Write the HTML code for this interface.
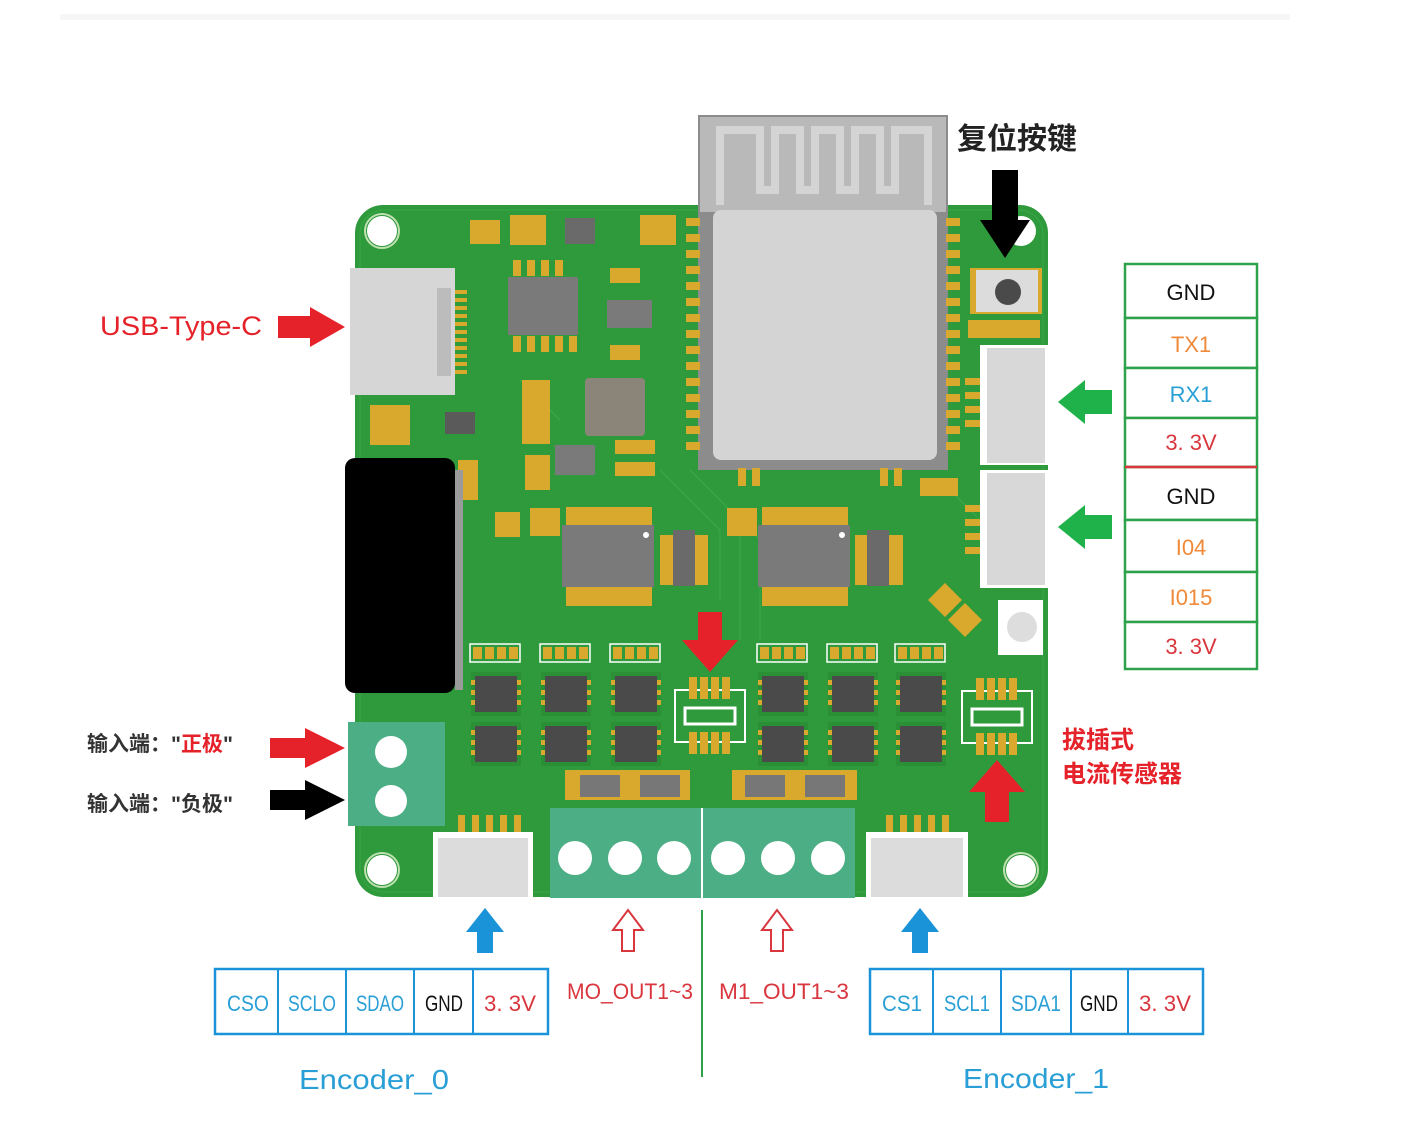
<!DOCTYPE html>
<html><head><meta charset="utf-8"><style>
html,body{margin:0;padding:0;background:#fff;}
svg{display:block;}
text{font-family:"Liberation Sans","Noto Sans CJK SC",sans-serif;}
</style></head><body>
<svg width="1407" height="1145" viewBox="0 0 1407 1145" xmlns="http://www.w3.org/2000/svg">
<defs>
<g id="qfn">
 <rect x="0" y="0" width="50" height="44" fill="#2a8f35"/>
 <rect x="4" y="4" width="42" height="36" fill="#4a4a4a"/>
 <rect x="0" y="8" width="4" height="5" fill="#d9a92e"/><rect x="0" y="18" width="4" height="5" fill="#d9a92e"/><rect x="0" y="28" width="4" height="5" fill="#d9a92e"/>
 <rect x="46" y="8" width="4" height="5" fill="#d9a92e"/><rect x="46" y="18" width="4" height="5" fill="#d9a92e"/><rect x="46" y="28" width="4" height="5" fill="#d9a92e"/>
</g>
<g id="pads">
 <rect x="0" y="0" width="50" height="18" fill="none" stroke="#fff" stroke-width="1.5"/>
 <rect x="3" y="3" width="9" height="12" fill="#d9a92e"/><rect x="15" y="3" width="9" height="12" fill="#d9a92e"/><rect x="27" y="3" width="9" height="12" fill="#d9a92e"/><rect x="39" y="3" width="9" height="12" fill="#d9a92e"/>
</g>
<g id="sensor">
 <rect x="0" y="18" width="70" height="52" fill="none" stroke="#fff" stroke-width="2"/>
 <rect x="10" y="36" width="50" height="16" fill="none" stroke="#fff" stroke-width="3"/>
 <rect x="14" y="5" width="8" height="22" fill="#d9a92e"/><rect x="25" y="5" width="8" height="22" fill="#d9a92e"/><rect x="36" y="5" width="8" height="22" fill="#d9a92e"/><rect x="47" y="5" width="8" height="22" fill="#d9a92e"/>
 <rect x="14" y="60" width="8" height="22" fill="#d9a92e"/><rect x="25" y="60" width="8" height="22" fill="#d9a92e"/><rect x="36" y="60" width="8" height="22" fill="#d9a92e"/><rect x="47" y="60" width="8" height="22" fill="#d9a92e"/>
</g>
<g id="soic">
 <rect x="0" y="0" width="92" height="62" fill="#7a7a7a"/>
 <circle cx="84" cy="10" r="3" fill="#fff"/>
</g>
</defs>

<!-- faint top line -->
<rect x="60" y="14" width="1230" height="6" fill="#f6f6f6"/>

<!-- board -->
<rect x="355" y="205" width="693" height="692" rx="28" fill="#2e9a3b"/>
<rect x="360" y="210" width="683" height="682" rx="24" fill="none" stroke="#3aa847" stroke-width="1"/>
<!-- mounting holes -->
<circle cx="382" cy="231" r="15" fill="#fff"/><circle cx="382" cy="231" r="17" fill="none" stroke="#bfe0b0" stroke-width="2"/>
<circle cx="1021" cy="231" r="15" fill="#fff"/>
<circle cx="382" cy="870" r="15" fill="#fff"/><circle cx="382" cy="870" r="17" fill="none" stroke="#bfe0b0" stroke-width="2"/>
<circle cx="1021" cy="870" r="15" fill="#fff"/><circle cx="1021" cy="870" r="17" fill="none" stroke="#bfe0b0" stroke-width="2"/>

<!-- traces -->
<g stroke="#36a544" stroke-width="1.5" fill="none">
<path d="M690 470 L760 540 L760 640"/><path d="M700 480 L740 520 L740 640"/><path d="M940 480 L980 520"/>
<path d="M520 380 L560 420"/><path d="M660 470 L720 530 L720 600"/>
</g>

<!-- ESP module -->
<rect x="698" y="115" width="250" height="355" fill="#8c8c8c"/>
<rect x="700" y="117" width="246" height="95" fill="#b9b9b9"/>
<path d="M720 205 L720 130 L760 130 L760 190 L775 190 L775 130 L800 130 L800 190 L815 190 L815 130 L840 130 L840 190 L855 190 L855 130 L880 130 L880 190 L895 190 L895 130 L928 130 L928 205" fill="none" stroke="#d4d4d4" stroke-width="8"/>
<rect x="713" y="210" width="224" height="250" rx="8" fill="#d4d4d4"/>
<!-- module pads -->
<g fill="#d9a92e">
<rect x="686" y="218" width="14" height="8"/><rect x="686" y="234" width="14" height="8"/><rect x="686" y="250" width="14" height="8"/><rect x="686" y="266" width="14" height="8"/><rect x="686" y="282" width="14" height="8"/><rect x="686" y="298" width="14" height="8"/><rect x="686" y="314" width="14" height="8"/><rect x="686" y="330" width="14" height="8"/><rect x="686" y="346" width="14" height="8"/><rect x="686" y="362" width="14" height="8"/><rect x="686" y="378" width="14" height="8"/><rect x="686" y="394" width="14" height="8"/><rect x="686" y="410" width="14" height="8"/><rect x="686" y="426" width="14" height="8"/><rect x="686" y="442" width="14" height="8"/>
<rect x="946" y="218" width="14" height="8"/><rect x="946" y="234" width="14" height="8"/><rect x="946" y="250" width="14" height="8"/><rect x="946" y="266" width="14" height="8"/><rect x="946" y="282" width="14" height="8"/><rect x="946" y="298" width="14" height="8"/><rect x="946" y="314" width="14" height="8"/><rect x="946" y="330" width="14" height="8"/><rect x="946" y="346" width="14" height="8"/><rect x="946" y="362" width="14" height="8"/><rect x="946" y="378" width="14" height="8"/><rect x="946" y="394" width="14" height="8"/><rect x="946" y="410" width="14" height="8"/><rect x="946" y="426" width="14" height="8"/><rect x="946" y="442" width="14" height="8"/>
<rect x="738" y="468" width="8" height="18"/><rect x="752" y="468" width="8" height="18"/><rect x="880" y="468" width="8" height="18"/><rect x="894" y="468" width="8" height="18"/>
</g>

<!-- USB -->
<rect x="350" y="268" width="105" height="127" fill="#d6d6d6"/>
<rect x="437" y="288" width="14" height="88" fill="#bcbcbc"/>
<g fill="#d9a92e"><rect x="455" y="290" width="12" height="4"/><rect x="455" y="298" width="12" height="4"/><rect x="455" y="306" width="12" height="4"/><rect x="455" y="314" width="12" height="4"/><rect x="455" y="322" width="12" height="4"/><rect x="455" y="330" width="12" height="4"/><rect x="455" y="338" width="12" height="4"/><rect x="455" y="346" width="12" height="4"/><rect x="455" y="354" width="12" height="4"/><rect x="455" y="362" width="12" height="4"/><rect x="455" y="370" width="12" height="4"/></g>

<!-- upper left components -->
<rect x="508" y="277" width="70" height="58" fill="#7a7a7a"/>
<g fill="#d9a92e"><rect x="513" y="260" width="8" height="16"/><rect x="527" y="260" width="8" height="16"/><rect x="541" y="260" width="8" height="16"/><rect x="555" y="260" width="8" height="16"/><rect x="513" y="336" width="8" height="16"/><rect x="527" y="336" width="8" height="16"/><rect x="541" y="336" width="8" height="16"/><rect x="555" y="336" width="8" height="16"/><rect x="569" y="336" width="8" height="16"/></g>
<rect x="607" y="300" width="45" height="28" fill="#7a7a7a"/>
<rect x="585" y="378" width="60" height="58" rx="4" fill="#8a8578"/>
<rect x="522" y="380" width="28" height="64" fill="#d9a92e"/>
<rect x="555" y="445" width="40" height="30" fill="#7a7a7a"/>
<g fill="#d9a92e">
<rect x="510" y="215" width="36" height="30"/><rect x="640" y="215" width="36" height="30"/><rect x="470" y="220" width="30" height="24"/>
<rect x="610" y="268" width="30" height="15"/><rect x="610" y="345" width="30" height="15"/>
<rect x="615" y="440" width="40" height="14"/><rect x="615" y="462" width="40" height="14"/>
<rect x="370" y="405" width="40" height="40"/><rect x="525" y="455" width="25" height="35"/>
<rect x="530" y="508" width="30" height="28"/><rect x="727" y="508" width="30" height="28"/><rect x="495" y="512" width="25" height="25"/>
<rect x="458" y="460" width="20" height="40"/>
</g>
<rect x="565" y="218" width="30" height="26" fill="#6a6a6a"/>
<rect x="445" y="412" width="30" height="22" fill="#5a5a5a"/>

<!-- black capacitor -->
<rect x="345" y="458" width="110" height="235" rx="10" fill="#000"/>
<rect x="455" y="470" width="8" height="220" fill="#9a9a9a"/>

<!-- SOIC chips -->
<g fill="#d9a92e">
<rect x="566" y="507" width="86" height="18"/><rect x="566" y="586" width="86" height="20"/>
<rect x="762" y="507" width="86" height="18"/><rect x="762" y="586" width="86" height="20"/>
</g>
<use href="#soic" x="562" y="525"/>
<use href="#soic" x="758" y="525"/>
<rect x="660" y="535" width="48" height="50" fill="#d9a92e"/><rect x="673" y="530" width="22" height="56" fill="#6a6a6a"/>
<rect x="855" y="535" width="48" height="50" fill="#d9a92e"/><rect x="867" y="530" width="22" height="56" fill="#6a6a6a"/>

<!-- right small parts -->
<rect x="970" y="268" width="72" height="46" fill="#d9a92e"/>
<rect x="976" y="270" width="62" height="42" fill="#dcdcdc"/>
<circle cx="1008" cy="292" r="13" fill="#4a4a4a"/>
<rect x="968" y="320" width="72" height="18" fill="#d9a92e"/>
<rect x="998" y="600" width="45" height="55" fill="#fff"/><circle cx="1022" cy="627" r="15" fill="#ddd"/>
<rect x="920" y="478" width="38" height="18" fill="#d9a92e"/>
<polygon points="928,600 945,583 962,600 945,617" fill="#d9a92e"/><polygon points="948,620 965,603 982,620 965,637" fill="#d9a92e"/>

<!-- right connectors -->
<g fill="#d9a92e"><rect x="965" y="378" width="22" height="7"/><rect x="965" y="392" width="22" height="7"/><rect x="965" y="406" width="22" height="7"/><rect x="965" y="420" width="22" height="7"/>
<rect x="965" y="505" width="22" height="7"/><rect x="965" y="519" width="22" height="7"/><rect x="965" y="533" width="22" height="7"/><rect x="965" y="547" width="22" height="7"/></g>
<rect x="980" y="345" width="68" height="120" fill="#fff"/><rect x="987" y="348" width="58" height="115" fill="#d8d8d8"/>
<rect x="980" y="470" width="68" height="118" fill="#fff"/><rect x="987" y="473" width="58" height="112" fill="#d8d8d8"/>

<!-- small driver chips rows -->
<use href="#pads" x="470" y="644"/><use href="#pads" x="540" y="644"/><use href="#pads" x="610" y="644"/>
<use href="#pads" x="757" y="644"/><use href="#pads" x="827" y="644"/><use href="#pads" x="895" y="644"/>
<use href="#qfn" x="471" y="672"/><use href="#qfn" x="541" y="672"/><use href="#qfn" x="611" y="672"/>
<use href="#qfn" x="758" y="672"/><use href="#qfn" x="828" y="672"/><use href="#qfn" x="896" y="672"/>
<use href="#qfn" x="471" y="722"/><use href="#qfn" x="541" y="722"/><use href="#qfn" x="611" y="722"/>
<use href="#qfn" x="758" y="722"/><use href="#qfn" x="828" y="722"/><use href="#qfn" x="896" y="722"/>
<use href="#sensor" x="675" y="672"/>
<use href="#sensor" x="962" y="673"/>

<!-- bottom resistors -->
<rect x="565" y="770" width="125" height="30" fill="#d9a92e"/><rect x="580" y="775" width="40" height="22" fill="#777"/><rect x="640" y="775" width="40" height="22" fill="#777"/>
<rect x="732" y="770" width="125" height="30" fill="#d9a92e"/><rect x="745" y="775" width="40" height="22" fill="#777"/><rect x="805" y="775" width="40" height="22" fill="#777"/>

<!-- input terminal -->
<rect x="348" y="722" width="97" height="104" fill="#4cae84"/>
<circle cx="391" cy="752" r="16" fill="#fff"/><circle cx="391" cy="801" r="16" fill="#fff"/>

<!-- bottom connectors -->
<g fill="#d9a92e"><rect x="458" y="815" width="7" height="18"/><rect x="472" y="815" width="7" height="18"/><rect x="486" y="815" width="7" height="18"/><rect x="500" y="815" width="7" height="18"/><rect x="514" y="815" width="7" height="18"/>
<rect x="886" y="815" width="7" height="18"/><rect x="900" y="815" width="7" height="18"/><rect x="914" y="815" width="7" height="18"/><rect x="928" y="815" width="7" height="18"/><rect x="942" y="815" width="7" height="18"/></g>
<rect x="433" y="832" width="100" height="65" fill="#fff"/><rect x="438" y="838" width="90" height="59" fill="#dcdcdc"/>
<rect x="866" y="832" width="102" height="65" fill="#fff"/><rect x="871" y="838" width="92" height="59" fill="#dcdcdc"/>

<!-- motor terminal -->
<rect x="550" y="808" width="305" height="90" fill="#4cae84"/>
<line x1="702" y1="808" x2="702" y2="898" stroke="#fff" stroke-width="2"/>
<g fill="#fff"><circle cx="575" cy="858" r="17"/><circle cx="625" cy="858" r="17"/><circle cx="674" cy="858" r="17"/><circle cx="728" cy="858" r="17"/><circle cx="778" cy="858" r="17"/><circle cx="828" cy="858" r="17"/></g>

<!-- arrows -->
<polygon points="278,316 310,316 310,307 345,327 310,347 310,338 278,338" fill="#e5222a"/>
<polygon points="270,738 305,738 305,728 345,748 305,768 305,758 270,758" fill="#e5222a"/>
<polygon points="270,790 305,790 305,780 345,800 305,820 305,810 270,810" fill="#000"/>
<polygon points="992,170 1018,170 1018,220 1030,220 1005,258 980,220 992,220" fill="#000"/>
<polygon points="1112,390 1085,390 1085,380 1058,402 1085,424 1085,414 1112,414" fill="#1fb24a"/>
<polygon points="1112,515 1085,515 1085,505 1058,527 1085,549 1085,539 1112,539" fill="#1fb24a"/>
<polygon points="698,612 722,612 722,640 738,640 710,672 682,640 698,640" fill="#e5222a"/>
<polygon points="985,822 1009,822 1009,792 1025,792 997,760 969,792 985,792" fill="#e5222a"/>
<polygon points="477,953 493,953 493,932 504,932 485,908 466,932 477,932" fill="#1a93d8"/>
<polygon points="912,953 928,953 928,932 939,932 920,908 901,932 912,932" fill="#1a93d8"/>
<polygon points="622,951 634,951 634,930 643,930 628,910 613,930 622,930" fill="#fff" stroke="#d9363e" stroke-width="2"/>
<polygon points="771,951 783,951 783,930 792,930 777,910 762,930 771,930" fill="#fff" stroke="#d9363e" stroke-width="2"/>

<line x1="702" y1="910" x2="702" y2="1077" stroke="#2ea24a" stroke-width="2"/>

<!-- labels -->
<text x="100" y="335" font-size="27" fill="#e5222a" textLength="162" lengthAdjust="spacingAndGlyphs">USB-Type-C</text>
<text x="957" y="149" font-size="30" font-weight="bold" fill="#222">复位按键</text>
<text x="87" y="751" font-size="21" font-weight="bold" fill="#333">输入端："<tspan fill="#e5222a">正极</tspan>"</text>
<text x="87" y="811" font-size="21" font-weight="bold" fill="#333">输入端："负极"</text>
<text x="1062" y="748" font-size="24" font-weight="bold" fill="#e5222a">拔插式</text>
<text x="1062" y="782" font-size="24" font-weight="bold" fill="#e5222a">电流传感器</text>

<!-- right table -->
<g fill="#fff" stroke="#2ea24a" stroke-width="2.5">
<rect x="1125" y="264" width="132" height="54"/><rect x="1125" y="318" width="132" height="50"/><rect x="1125" y="368" width="132" height="50"/><rect x="1125" y="418" width="132" height="49"/>
<rect x="1125" y="467" width="132" height="53"/><rect x="1125" y="520" width="132" height="52"/><rect x="1125" y="572" width="132" height="50"/><rect x="1125" y="622" width="132" height="47"/>
</g>
<line x1="1125" y1="467" x2="1257" y2="467" stroke="#d9363e" stroke-width="2.5"/>
<g font-size="22" text-anchor="middle">
<text x="1191" y="300" fill="#111">GND</text>
<text x="1191" y="352" fill="#ef8a3a">TX1</text>
<text x="1191" y="402" fill="#2a9fd6">RX1</text>
<text x="1191" y="450" fill="#d9363e">3. 3V</text>
<text x="1191" y="504" fill="#111">GND</text>
<text x="1191" y="555" fill="#ef8a3a">I04</text>
<text x="1191" y="605" fill="#ef8a3a">I015</text>
<text x="1191" y="654" fill="#d9363e">3. 3V</text>
</g>

<!-- bottom tables -->
<g fill="#fff" stroke="#1a93d8" stroke-width="2.5">
<rect x="215" y="969" width="333" height="65"/>
<rect x="870" y="969" width="333" height="65"/>
</g>
<g stroke="#1a93d8" stroke-width="2">
<line x1="278" y1="969" x2="278" y2="1034"/><line x1="346" y1="969" x2="346" y2="1034"/><line x1="414" y1="969" x2="414" y2="1034"/><line x1="473" y1="969" x2="473" y2="1034"/>
<line x1="933" y1="969" x2="933" y2="1034"/><line x1="1001" y1="969" x2="1001" y2="1034"/><line x1="1071" y1="969" x2="1071" y2="1034"/><line x1="1128" y1="969" x2="1128" y2="1034"/>
</g>
<g font-size="22" text-anchor="middle">
<text x="248" y="1011" fill="#2a9fd6" textLength="42" lengthAdjust="spacingAndGlyphs">CSO</text>
<text x="312" y="1011" fill="#2a9fd6" textLength="48" lengthAdjust="spacingAndGlyphs">SCLO</text>
<text x="380" y="1011" fill="#2a9fd6" textLength="48" lengthAdjust="spacingAndGlyphs">SDAO</text>
<text x="444" y="1011" fill="#111" textLength="38" lengthAdjust="spacingAndGlyphs">GND</text>
<text x="510" y="1011" fill="#d9363e" textLength="52" lengthAdjust="spacingAndGlyphs">3. 3V</text>
<text x="902" y="1011" fill="#2a9fd6" textLength="40" lengthAdjust="spacingAndGlyphs">CS1</text>
<text x="967" y="1011" fill="#2a9fd6" textLength="46" lengthAdjust="spacingAndGlyphs">SCL1</text>
<text x="1036" y="1011" fill="#2a9fd6" textLength="50" lengthAdjust="spacingAndGlyphs">SDA1</text>
<text x="1099" y="1011" fill="#111" textLength="38" lengthAdjust="spacingAndGlyphs">GND</text>
<text x="1165" y="1011" fill="#d9363e" textLength="52" lengthAdjust="spacingAndGlyphs">3. 3V</text>
<text x="630" y="999" fill="#d9363e" textLength="126" lengthAdjust="spacingAndGlyphs">MO_OUT1~3</text>
<text x="784" y="999" fill="#d9363e" textLength="130" lengthAdjust="spacingAndGlyphs">M1_OUT1~3</text>
</g>
<text x="374" y="1089" font-size="28" text-anchor="middle" fill="#2a9fd6" textLength="150" lengthAdjust="spacingAndGlyphs">Encoder_0</text>
<text x="1036" y="1088" font-size="28" text-anchor="middle" fill="#2a9fd6" textLength="146" lengthAdjust="spacingAndGlyphs">Encoder_1</text>
</svg>
</body></html>
